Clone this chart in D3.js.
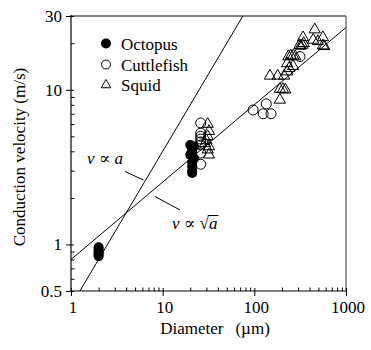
<!DOCTYPE html>
<html><head><meta charset="utf-8">
<script src="https://cdn.jsdelivr.net/npm/d3@7"></script>
<style>body{margin:0;background:#fff}svg{display:block}</style>
</head><body>
<svg id="c" width="371" height="350" font-family="Liberation Serif, Times New Roman, Times, DejaVu Serif, serif"></svg>
<script>
// ---- data ----
const octopusX = [2,2,2,2,2,2, 20,22,21,21,20,22,21,21,21,21,21];
const octopusY = [0.96,0.93,0.90,0.88,0.86,0.84, 4.4,4.3,4.2,4.0,3.8,3.6,3.7,3.4,3.2,3.0,2.9];
const cuttleX = [26,26,26,26,26,26,26,26, 97,135,125,152,315];
const cuttleY = [6.1,5.25,5.0,4.8,4.6,4.4,3.9,3.3, 7.4,8.1,7.0,7.0,16.4];
const squidX = [31,32,31,30,32,31,32,29,
  148,180,212,190,190,205,218,228,240,265,228,235,250,265,280,320,335,345,340,456,438,494,560,560,580,310];
const squidY = [6.0,5.4,5.0,4.7,4.3,4.1,3.8,4.5,
  12.3,12.3,12.3,8.6,10.1,10.1,10.0,13.1,13.8,14.2,14.8,16.4,16.6,16.6,16.4,19.2,19.5,20.0,21.8,24.5,21.0,20.6,21.8,19.3,19.1,19.4];
const fitK = [0.4, 0.8];      // v = k * a^p
const fitP = [1, 0.5];
const xMajor = [1,10,100,1000];
const yMajor = [0.5,1,10,30];
const yMajorLabels = ["0.5","1","10","30"];
const legendNames = ["Octopus","Cuttlefish","Squid"];

// ---- chart ----
const FF = "Liberation Serif, Times New Roman, Times, DejaVu Serif, serif";
const svg = d3.select("#c");
const L=71,R=346,T=16,B=291;
const x = d3.scaleLog().domain([1,1000]).range([L,R]);
const y = d3.scaleLog().domain([0.5,30]).range([B,T]);

const xMinor=[], yMinor=[];
[1,10,100].forEach(d=>{for(let i=2;i<=9;i++) xMinor.push(d*i);});
[0.1,1,10].forEach(d=>{for(let i=2;i<=9;i++){const v=+(d*i).toFixed(3); if(v>=0.5&&v<=30&&!yMajor.includes(v)) yMinor.push(v);}});

svg.append("defs").append("clipPath").attr("id","clip").append("rect")
  .attr("x",L).attr("y",T).attr("width",R-L).attr("height",B-T);

// frame
svg.append("line").attr("x1",L).attr("x2",R).attr("y1",T).attr("y2",T).attr("stroke","#000").attr("stroke-width",1.2);
svg.append("line").attr("x1",R).attr("x2",R).attr("y1",T).attr("y2",B).attr("stroke","#777").attr("stroke-width",1.5);

function styleAxis(g){g.select(".domain").remove();g.selectAll("line").attr("stroke","#000").attr("stroke-width",1);g.selectAll("text").remove();}
// y axis
svg.append("g").attr("transform",`translate(${L},0)`).call(d3.axisLeft(y).tickValues(yMajor).tickSize(5)).call(styleAxis);
svg.append("g").attr("transform",`translate(${L},0)`).call(d3.axisLeft(y).tickValues(yMajor).tickSize(-3)).call(styleAxis);
svg.append("g").attr("transform",`translate(${L},0)`).call(d3.axisLeft(y).tickValues(yMinor).tickSize(-3.5)).call(styleAxis);
// x axis
svg.append("g").attr("transform",`translate(0,${B})`).call(d3.axisBottom(x).tickValues(xMajor).tickSize(5)).call(styleAxis);
svg.append("g").attr("transform",`translate(0,${B})`).call(d3.axisBottom(x).tickValues(xMajor).tickSize(-3)).call(styleAxis);
svg.append("g").attr("transform",`translate(0,${B})`).call(d3.axisBottom(x).tickValues(xMinor).tickSize(-3.5)).call(styleAxis);
svg.append("line").attr("x1",L).attr("x2",L).attr("y1",T-1).attr("y2",B).attr("stroke","#000").attr("stroke-width",1.2);
svg.append("line").attr("x1",L).attr("x2",R).attr("y1",B).attr("y2",B).attr("stroke","#000").attr("stroke-width",1.2);

function txt(sel){return sel.attr("font-family",FF).attr("fill","#000").attr("font-size",17);}
// tick labels
svg.selectAll(".yl").data(yMajor).enter().append("text").call(txt).attr("x",62).attr("y",d=>y(d)).attr("dy","0.34em")
  .attr("text-anchor","end").text((d,i)=>yMajorLabels[i]);
svg.selectAll(".xl").data(xMajor).enter().append("text").call(txt).attr("x",d=>x(d)+2).attr("y",313)
  .attr("text-anchor","middle").text(d=>d);

// axis titles
svg.append("text").call(txt).attr("transform","translate(25,157) rotate(-90)").attr("text-anchor","middle")
  .text("Conduction velocity (m/s)");
const xt = svg.append("text").call(txt).attr("x",215).attr("y",334).attr("text-anchor","middle");
xt.append("tspan").text("Diameter");
xt.append("tspan").attr("dx",12).text("(\u00b5m)");

// fit lines
const fits = fitK.map((k,i)=>({k,p:fitP[i]}));
const aVals=[1,1000];
svg.append("g").attr("clip-path","url(#clip)").selectAll("line").data(fits).enter().append("line")
  .attr("x1",x(aVals[0])).attr("x2",x(aVals[1]))
  .attr("y1",d=>y(d.k*Math.pow(aVals[0],d.p))).attr("y2",d=>y(d.k*Math.pow(aVals[1],d.p)))
  .attr("stroke","#000").attr("stroke-width",1);

// points
const pts = svg.append("g");
pts.selectAll(".oc").data(octopusX.map((d,i)=>[d,octopusY[i]])).enter().append("circle")
  .attr("cx",d=>x(d[0])).attr("cy",d=>y(d[1])).attr("r",5).attr("fill","#000");
pts.selectAll(".cu").data(cuttleX.map((d,i)=>[d,cuttleY[i]])).enter().append("circle")
  .attr("cx",d=>x(d[0])).attr("cy",d=>y(d[1])).attr("r",5).attr("fill","none").attr("stroke","#000").attr("stroke-width",1);
const tri = d3.symbol().type(d3.symbolTriangle).size(55);
pts.selectAll(".sq").data(squidX.map((d,i)=>[d,squidY[i]])).enter().append("path")
  .attr("d",tri).attr("transform",d=>`translate(${x(d[0])},${y(d[1])})`)
  .attr("fill","none").attr("stroke","#000").attr("stroke-width",1);

// legend
const lg = svg.append("g");
const ly=[43.5,64.5,85];
lg.append("circle").attr("cx",106).attr("cy",ly[0]).attr("r",5).attr("fill","#000");
lg.append("circle").attr("cx",106).attr("cy",ly[1]).attr("r",4.5).attr("fill","none").attr("stroke","#000");
lg.append("path").attr("d",d3.symbol().type(d3.symbolTriangle).size(40)).attr("transform",`translate(106,${ly[2]})`)
  .attr("fill","none").attr("stroke","#000");
lg.selectAll("text").data(legendNames).enter().append("text").call(txt).attr("x",121).attr("y",(d,i)=>ly[i]+6)
  .text(d=>d);

// annotations
const a1 = svg.append("text").call(txt).attr("x",87).attr("y",164);
a1.append("tspan").attr("font-style","italic").text("v");
a1.append("tspan").text(" \u221d ");
a1.append("tspan").attr("font-style","italic").text("a");
svg.append("line").attr("x1",125).attr("y1",171.5).attr("x2",143.5).attr("y2",180).attr("stroke","#000");

const a2 = svg.append("text").call(txt).attr("x",172).attr("y",229);
a2.append("tspan").attr("font-style","italic").text("v");
a2.append("tspan").text(" \u221d \u221a");
const w2 = a2.node().getComputedTextLength();
a2.append("tspan").attr("font-style","italic").text("a");
const w3 = a2.node().getComputedTextLength();
svg.append("line").attr("x1",172+w2-1).attr("x2",172+w3+1).attr("y1",215.5).attr("y2",215.5).attr("stroke","#000").attr("stroke-width",1);
svg.append("line").attr("x1",155).attr("y1",196.5).attr("x2",180).attr("y2",210).attr("stroke","#000");
</script>
</body></html>
